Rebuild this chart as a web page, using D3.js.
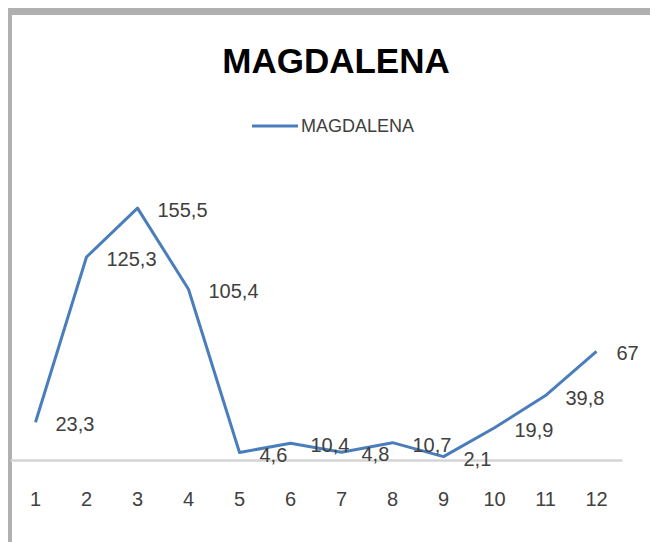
<!DOCTYPE html>
<html>
<head>
<meta charset="utf-8">
<script src="https://cdn.jsdelivr.net/npm/d3@7"></script>
<style>
  html, body { margin: 0; padding: 0; background: #fff; }
  svg { display: block; }
  text { font-family: "Liberation Sans", Arial, sans-serif; }
</style>
</head>
<body>
<svg id="chart" width="650" height="542"></svg>
<script>
// Monthly values for the MAGDALENA series
const months = [1, 2, 3, 4, 5, 6, 7, 8, 9, 10, 11, 12];
const values = [23.3, 125.3, 155.5, 105.4, 4.6, 10.4, 4.8, 10.7, 2.1, 19.9, 39.8, 67];
const valueLabels = ["23,3", "125,3", "155,5", "105,4", "4,6", "10,4", "4,8", "10,7", "2,1", "19,9", "39,8", "67"];
const seriesName = "MAGDALENA";
const chartTitle = "MAGDALENA";

const svg = d3.select("#chart");
const W = 650, H = 542;
const lineColor = "#4a7ebb";

// frame: grey top rule and left rule
svg.append("rect").attr("x", 8).attr("y", 8).attr("width", W - 8).attr("height", 7).attr("fill", "#b0b0b0");
svg.append("rect").attr("x", 8).attr("y", 8).attr("width", 4).attr("height", H - 8).attr("fill", "#b0b0b0");

// scales
const x = d3.scaleBand().domain(months).range([10, 622]).padding(0);
const cx = d => x(d) + x.bandwidth() / 2;
const y = d3.scaleLinear().domain([0, 180]).range([460, 168.4]);

// title
svg.append("text")
  .attr("x", 336).attr("y", 73)
  .attr("text-anchor", "middle")
  .attr("font-size", 35).attr("font-weight", "bold").attr("fill", "#000")
  .text(chartTitle);

// legend
svg.append("line")
  .attr("x1", 252).attr("x2", 298).attr("y1", 126).attr("y2", 126)
  .attr("stroke", lineColor).attr("stroke-width", 3);
svg.append("text")
  .attr("x", 301).attr("y", 132)
  .attr("font-size", 18).attr("fill", "#404040")
  .text(seriesName);

// category axis along zero
const xAxis = d3.axisBottom(x).tickSize(0).tickPadding(0);
const gx = svg.append("g").attr("transform", `translate(0,${y(0)})`).call(xAxis);
gx.select(".domain").attr("stroke", "#d4d4d4").attr("stroke-width", 2.5);
gx.selectAll(".tick text")
  .attr("y", 46).attr("dy", null)
  .attr("font-size", 20).attr("fill", "#404040")
  .attr("font-family", "'Liberation Sans', Arial, sans-serif");

// series line
const line = d3.line().x((d, i) => cx(months[i])).y(d => y(d));
svg.append("path")
  .datum(values)
  .attr("d", line)
  .attr("fill", "none")
  .attr("stroke", lineColor)
  .attr("stroke-width", 3)
  .attr("stroke-linejoin", "round");

// data labels, right of each point
svg.append("g").selectAll("text")
  .data(values)
  .join("text")
  .attr("x", (d, i) => cx(months[i]) + 20)
  .attr("y", d => y(d) + 9)
  .attr("font-size", 20)
  .attr("fill", "#404040")
  .text((d, i) => valueLabels[i]);
</script>
</body>
</html>
